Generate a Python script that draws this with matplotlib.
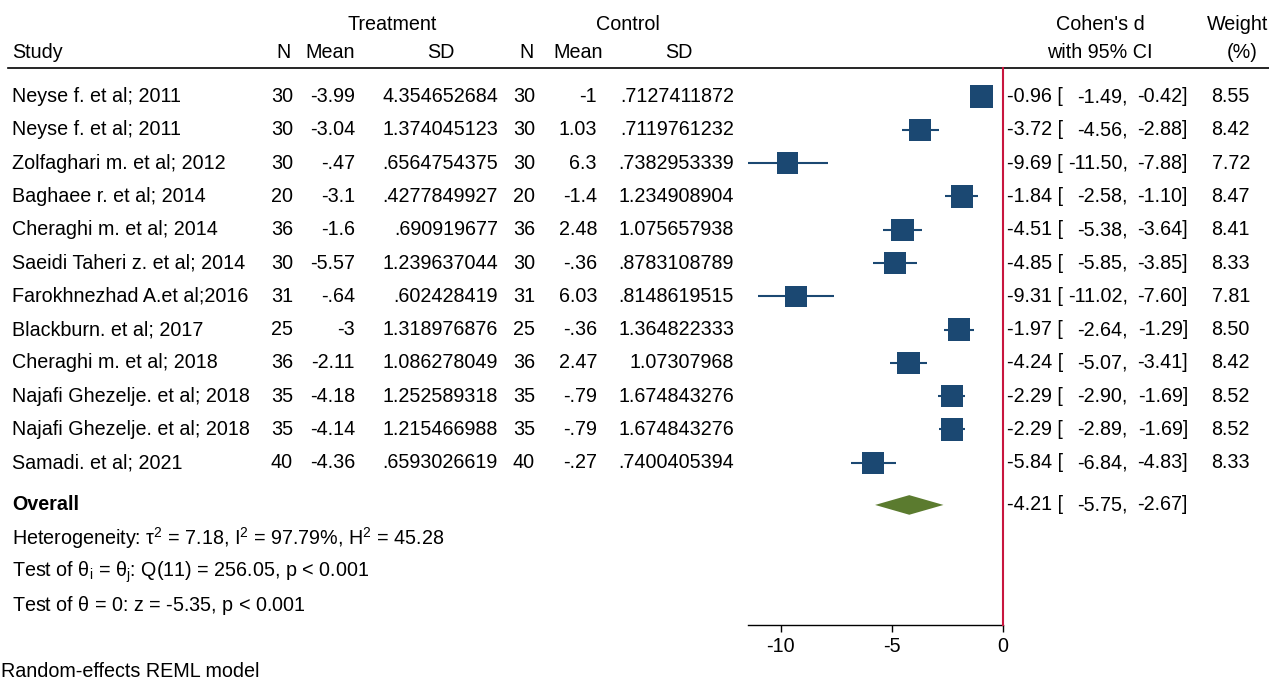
#!/usr/bin/env python3

import numpy as np
import matplotlib
matplotlib.use("Agg")
import matplotlib.pyplot as plt

plt.rcParams["font.family"] = ["Liberation Sans", "DejaVu Sans"]
plt.rcParams["mathtext.fontset"] = "custom"
plt.rcParams["mathtext.rm"] = "Liberation Sans"
plt.rcParams["mathtext.it"] = "Liberation Sans"

studies = [
    "Neyse f. et al; 2011",
    "Neyse f. et al; 2011",
    "Zolfaghari m. et al; 2012",
    "Baghaee r. et al; 2014",
    "Cheraghi m. et al; 2014",
    "Saeidi Taheri z. et al; 2014",
    "Farokhnezhad A.et al;2016",
    "Blackburn. et al; 2017",
    "Cheraghi m. et al; 2018",
    "Najafi Ghezelje. et al; 2018",
    "Najafi Ghezelje. et al; 2018",
    "Samadi. et al; 2021",
]
n_treat = [30, 30, 30, 20, 36, 30, 31, 25, 36, 35, 35, 40]
mean_treat = [-3.99, -3.04, -0.47, -3.1, -1.6, -5.57, -0.64, -3, -2.11, -4.18, -4.14, -4.36]
sd_treat = [4.354652684, 1.374045123, 0.6564754375, 0.4277849927, 0.690919677,
            1.239637044, 0.602428419, 1.318976876, 1.086278049, 1.252589318,
            1.215466988, 0.6593026619]
n_ctrl = [30, 30, 30, 20, 36, 30, 31, 25, 36, 35, 35, 40]
mean_ctrl = [-1, 1.03, 6.3, -1.4, 2.48, -0.36, 6.03, -0.36, 2.47, -0.79, -0.79, -0.27]
sd_ctrl = [0.7127411872, 0.7119761232, 0.7382953339, 1.234908904, 1.075657938,
           0.8783108789, 0.8148619515, 1.364822333, 1.07307968, 1.674843276,
           1.674843276, 0.7400405394]
effect = [-0.96, -3.72, -9.69, -1.84, -4.51, -4.85, -9.31, -1.97, -4.24, -2.29, -2.29, -5.84]
ci_low = [-1.49, -4.56, -11.50, -2.58, -5.38, -5.85, -11.02, -2.64, -5.07, -2.90, -2.89, -6.84]
ci_high = [-0.42, -2.88, -7.88, -1.10, -3.64, -3.85, -7.60, -1.29, -3.41, -1.69, -1.69, -4.83]
weight = [8.55, 8.42, 7.72, 8.47, 8.41, 8.33, 7.81, 8.50, 8.42, 8.52, 8.52, 8.33]

overall = -4.21
overall_low = -5.75
overall_high = -2.67

xticks = [-10, -5, 0]

FS = 14.2
W, H = 1269, 682
ROW0, ROWH = 96.6, 33.28  # pixel centre of first row, row spacing


def stata_num(v, digits=10):
    s = "{:.{}g}".format(v, digits)
    if s.startswith("0."):
        s = s[1:]
    elif s.startswith("-0."):
        s = "-" + s[2:]
    return s


def px2row(p):
    return (p - ROW0) / ROWH


fig = plt.figure(figsize=(W / 100, H / 100), dpi=100)

# background axes: x in pixels, y in row units
bg = fig.add_axes([0, 0, 1, 1])
bg.set_xlim(0, W)
bg.set_ylim(px2row(H), px2row(0))
bg.axis("off")

# forest axes
ax_left, ax_right = 747.5, 1002.7
ax_top, ax_bot = 68.0, 624.7
ax = fig.add_axes([ax_left / W, (H - ax_bot) / H, (ax_right - ax_left) / W, (ax_bot - ax_top) / H])
ax.patch.set_alpha(0)
ax.set_xlim(-11.5, 0)
ax.set_ylim(px2row(ax_bot), px2row(ax_top))

rows = np.arange(len(studies))
navy = "#1b4872"

ax.hlines(rows, ci_low, ci_high, color=navy, lw=1.5, zorder=2)
side_pt = 22.5 * 72 / 100 * np.sqrt(np.array(weight) / 8.55)
ax.scatter(effect, rows, marker="s", s=side_pt ** 2, color=navy, linewidths=0, zorder=3)

oy = len(studies) + 0.27
dh = 9.8 / ROWH
ax.fill([overall_low, overall, overall_high, overall],
        [oy, oy - dh, oy, oy + dh], color="#5b7b2f", lw=0, zorder=3)

ax.axvline(0, color="#c8163e", lw=1.5, clip_on=False, zorder=4)

for s in ["top", "left", "right"]:
    ax.spines[s].set_visible(False)
ax.spines["bottom"].set_linewidth(1.0)
ax.set_yticks([])
ax.set_xticks(xticks)
ax.set_xticklabels([str(t) for t in xticks])
ax.tick_params(axis="x", length=5, width=1.0, pad=4, labelsize=FS)

# header
hy1, hy2 = px2row(25), px2row(52)
bg.text(392, hy1, "Treatment", ha="center", va="center", fontsize=FS)
bg.text(628, hy1, "Control", ha="center", va="center", fontsize=FS)
bg.text(1100, hy1, "Cohen's d", ha="center", va="center", fontsize=FS)
bg.text(1238, hy1, "Weight", ha="center", va="center", fontsize=FS)
bg.text(12, hy2, "Study", ha="left", va="center", fontsize=FS)
bg.text(291, hy2, "N", ha="right", va="center", fontsize=FS)
bg.text(355, hy2, "Mean", ha="right", va="center", fontsize=FS)
bg.text(441, hy2, "SD", ha="center", va="center", fontsize=FS)
bg.text(534, hy2, "N", ha="right", va="center", fontsize=FS)
bg.text(603, hy2, "Mean", ha="right", va="center", fontsize=FS)
bg.text(679, hy2, "SD", ha="center", va="center", fontsize=FS)
bg.text(1100, hy2, "with 95% CI", ha="center", va="center", fontsize=FS)
bg.text(1242, hy2, "(%)", ha="center", va="center", fontsize=FS)
bg.plot([8, W], [px2row(68), px2row(68)], color="black", lw=1.2)


def ci_text(y, d, lo, hi):
    bg.text(1007, y, "{:.2f} [".format(d), ha="left", va="center", fontsize=FS)
    bg.text(1128, y, "{:.2f},".format(lo), ha="right", va="center", fontsize=FS)
    bg.text(1188, y, "{:.2f}]".format(hi), ha="right", va="center", fontsize=FS)


for i in rows:
    bg.text(12, i, studies[i], ha="left", va="center", fontsize=FS)
    bg.text(293, i, str(n_treat[i]), ha="right", va="center", fontsize=FS)
    bg.text(355, i, stata_num(mean_treat[i]), ha="right", va="center", fontsize=FS)
    bg.text(498, i, stata_num(sd_treat[i]), ha="right", va="center", fontsize=FS)
    bg.text(535, i, str(n_ctrl[i]), ha="right", va="center", fontsize=FS)
    bg.text(597, i, stata_num(mean_ctrl[i]), ha="right", va="center", fontsize=FS)
    bg.text(734, i, stata_num(sd_ctrl[i]), ha="right", va="center", fontsize=FS)
    ci_text(i, effect[i], ci_low[i], ci_high[i])
    bg.text(1250, i, "{:.2f}".format(weight[i]), ha="right", va="center", fontsize=FS)

bg.text(12, oy, "Overall", ha="left", va="center", fontsize=FS, fontweight="bold")
ci_text(oy, overall, overall_low, overall_high)

bg.text(12, px2row(538),
        r"Heterogeneity: $\mathregular{\tau^2}$ = 7.18, $\mathregular{I^2}$ = 97.79%, $\mathregular{H^2}$ = 45.28",
        ha="left", va="center", fontsize=FS)
bg.text(12, px2row(572), r"Test of $\mathregular{\theta_i}$ = $\mathregular{\theta_j}$: Q(11) = 256.05, p < 0.001",
        ha="left", va="center", fontsize=FS)
bg.text(12, px2row(605), r"Test of $\mathregular{\theta}$ = 0: z = -5.35, p < 0.001",
        ha="left", va="center", fontsize=FS)
bg.text(1, px2row(671), "Random-effects REML model", ha="left", va="center", fontsize=FS)

fig.savefig("out.png", dpi=100)
